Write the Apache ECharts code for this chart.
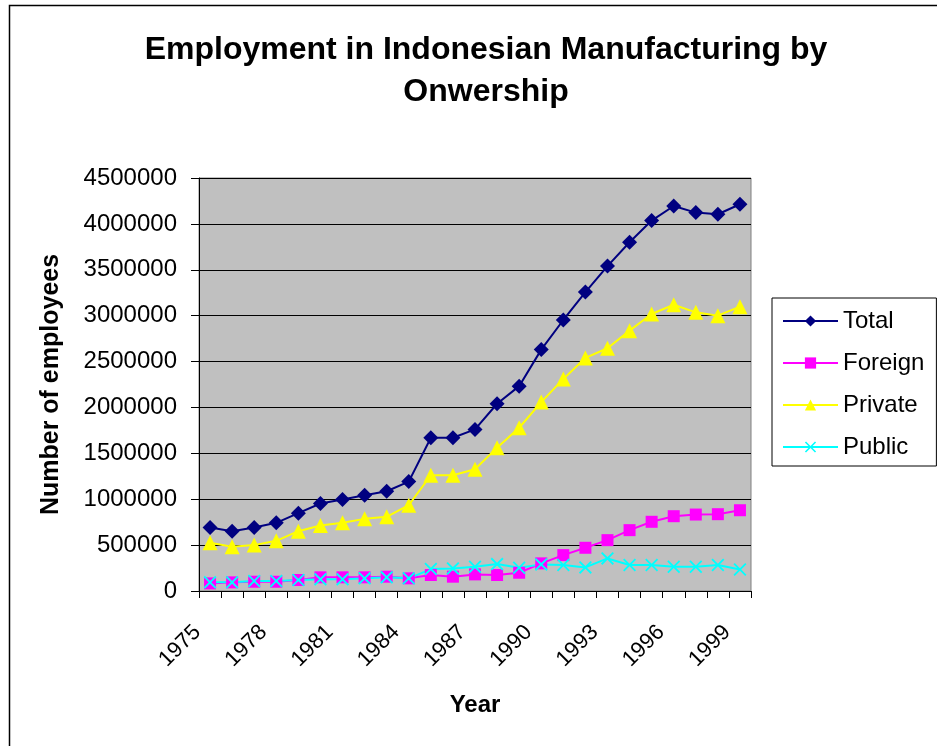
<!DOCTYPE html>
<html><head><meta charset="utf-8">
<script src="https://cdn.jsdelivr.net/npm/echarts@6/dist/echarts.min.js"></script>
<style>html,body{margin:0;padding:0;background:#fff}#c{width:937px;height:746px}</style>
</head><body><div id="c"></div>
<script>
const years = ['1975','1976','1977','1978','1979','1980','1981','1982','1983','1984','1985','1986','1987','1988','1989','1990','1991','1992','1993','1994','1995','1996','1997','1998','1999'];
const total = [692000,652000,692000,743000,848000,953000,996000,1043000,1087000,1192000,1670000,1670000,1761000,2040000,2232000,2630000,2953000,3257000,3540000,3800000,4036000,4195000,4123000,4105000,4214000];
const foreign = [83000,94000,101000,101000,120000,149000,149000,149000,156000,138000,174000,156000,181000,174000,199000,301000,391000,471000,554000,663000,754000,815000,833000,837000,880000];
const priv = [525000,482000,500000,547000,652000,714000,743000,786000,808000,935000,1261000,1261000,1326000,1562000,1779000,2058000,2311000,2540000,2645000,2837000,3018000,3119000,3036000,3000000,3098000];
const pub = [94000,94000,109000,109000,120000,127000,127000,138000,149000,138000,239000,246000,264000,293000,254000,290000,283000,257000,355000,283000,283000,264000,264000,283000,235000];
const yTicks = [0,500000,1000000,1500000,2000000,2500000,3000000,3500000,4000000,4500000];

const FONT = 'Liberation Sans, Arial, sans-serif';
const cross = 'path://M0,1L1,0L5,4L9,0L10,1L6,5L10,9L9,10L5,6L1,10L0,9L4,5Z';
const chart = echarts.init(document.getElementById('c'));
function ser(name, data, color, symbol, size) {
  return {name, type:'line', data, symbol, symbolSize:size, showAllSymbol:true,
    lineStyle:{color, width:2}, itemStyle:{color}, emphasis:{disabled:true}, animation:false};
}
chart.setOption({
  animation:false,
  backgroundColor:'#fff',
  title:{text:'Employment in Indonesian Manufacturing by\nOnwership', left:481, top:24, textAlign:'center',
    textStyle:{fontFamily:FONT, fontWeight:'bold', fontSize:32, lineHeight:42, color:'#000'}},
  graphic:[{type:'rect', shape:{x:9.5, y:5.5, width:1000, height:1000}, style:{fill:'none', stroke:'#000', lineWidth:1.5}, silent:true}],
  legend:{left:772, top:298, width:160, orient:'vertical', itemGap:18, itemWidth:55, itemHeight:14,
    padding:[11,12,7,10], borderColor:'#000', borderWidth:1, backgroundColor:'#fff',
    textStyle:{fontFamily:FONT, fontSize:24, color:'#000'},
    data:['Total','Foreign','Private','Public']},
  grid:{left:199, top:178, width:552, height:413, show:true, backgroundColor:'#C0C0C0', borderColor:'#808080', borderWidth:1},
  xAxis:{type:'category', data:years, boundaryGap:true,
    name:'Year', nameLocation:'middle', nameGap:102,
    nameTextStyle:{fontFamily:FONT, fontWeight:'bold', fontSize:24, color:'#000'},
    axisLine:{lineStyle:{color:'#000', width:1}},
    axisTick:{show:true, interval:0, length:7, lineStyle:{color:'#000'}},
    axisLabel:{interval:2, rotate:45, fontFamily:FONT, fontSize:22, color:'#000', margin:25, padding:[0,18,0,0]},
    splitLine:{show:false}},
  yAxis:{type:'value', min:0, max:4500000, interval:500000,
    name:'Number of employees', nameLocation:'middle', nameGap:135,
    nameTextStyle:{fontFamily:FONT, fontWeight:'bold', fontSize:25, color:'#000'},
    axisLine:{show:true, lineStyle:{color:'#000'}},
    axisTick:{show:true, length:8, lineStyle:{color:'#000'}},
    axisLabel:{fontFamily:FONT, fontSize:24, color:'#000', margin:22, formatter:v=>String(v)},
    splitLine:{show:true, lineStyle:{color:'#000', width:1}}},
  series:[
    ser('Total', total, '#000080', 'diamond', 15),
    ser('Foreign', foreign, '#FF00FF', 'rect', 12),
    ser('Private', priv, '#FFFF00', 'triangle', 15),
    ser('Public', pub, '#00FFFF', cross, 13)
  ]
});
</script></body></html>
